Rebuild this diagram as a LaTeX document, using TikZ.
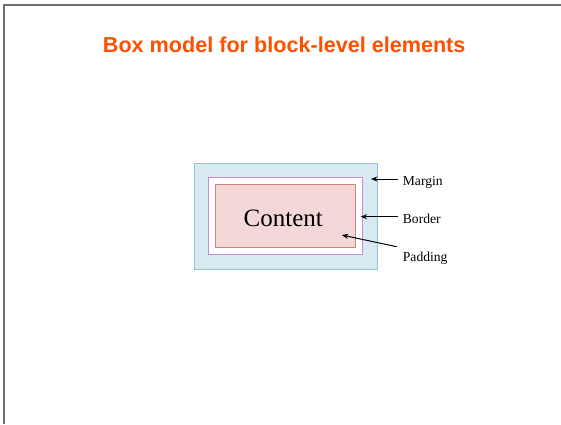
\documentclass[tikz,border=0pt]{standalone}
\usepackage{fontspec}
\setmainfont{Liberation Serif}
\newfontfamily\titlefont{Liberation Sans}
\usetikzlibrary{arrows.meta}
\definecolor{titleorange}{RGB}{255,80,0}
\definecolor{marginfill}{RGB}{214,234,240}
\definecolor{margindraw}{RGB}{150,198,214}
\definecolor{borderdraw}{RGB}{204,136,220}
\definecolor{contentfill}{RGB}{244,215,215}
\definecolor{contentdraw}{RGB}{210,128,128}
\definecolor{framegray}{RGB}{112,112,112}
\begin{document}
\begin{tikzpicture}[x=1pt,y=-1pt,
  boxbase/.style={rectangle,inner sep=0pt,line width=0.8pt},
  lbl/.style={anchor=base west,inner sep=0pt,font=\fontsize{13.6}{15}\selectfont},
  pointer/.style={-{Stealth[length=6.5pt,width=5pt]},line width=1pt,black},
  framestyle/.style={draw=framegray}]
\useasboundingbox (0,0) rectangle (561,424);
% frame
\coordinate (fA) at (3.5,424);
\coordinate (fB) at (3.5,4.3);
\coordinate (fC) at (561,5);
\coordinate (fD) at (2.5,5);
\draw[framestyle,line width=2pt] (fA) -- (fB);
\draw[framestyle,line width=1.4pt] (fD) -- (fC);
% title
\node[inner sep=0pt,anchor=base,font=\titlefont\bfseries\fontsize{21.6}{24}\selectfont,text=titleorange] (title) at (284.2,52) {Box model for block-level elements};
% boxes
\node[boxbase,draw=margindraw,fill=marginfill,minimum width=183pt,minimum height=105.7pt] (margin) at (285.8,216.2) {};
\node[boxbase,draw=borderdraw,fill=white,minimum width=154.4pt,minimum height=77pt] (border) at (285.5,215.8) {};
\node[boxbase,draw=contentdraw,fill=contentfill,minimum width=140.7pt,minimum height=63.3pt] (content) at (285.3,215.7) {};
\node[inner sep=0pt,anchor=base,font=\fontsize{25}{28}\selectfont] (ctext) at (283.3,226) {Content};
% labels
\node[lbl] (lmargin) at (402.7,185) {Margin};
\node[lbl] (lborder) at (402.7,223.3) {Border};
\node[lbl] (lpadding) at (402.7,261) {Padding};
% arrow targets and starts
\coordinate (tmargin) at (371,179);
\coordinate (tborder) at (360.5,216.7);
\coordinate (tpadding) at (341.7,235);
\coordinate (spadding) at (396.7,246.7);
\draw[pointer] ([xshift=-5pt]lmargin.west |- tmargin) -- (tmargin);
\draw[pointer] ([xshift=-5pt]lborder.west |- tborder) -- (tborder);
\draw[pointer] (spadding) -- (tpadding);
\end{tikzpicture}
\end{document}
